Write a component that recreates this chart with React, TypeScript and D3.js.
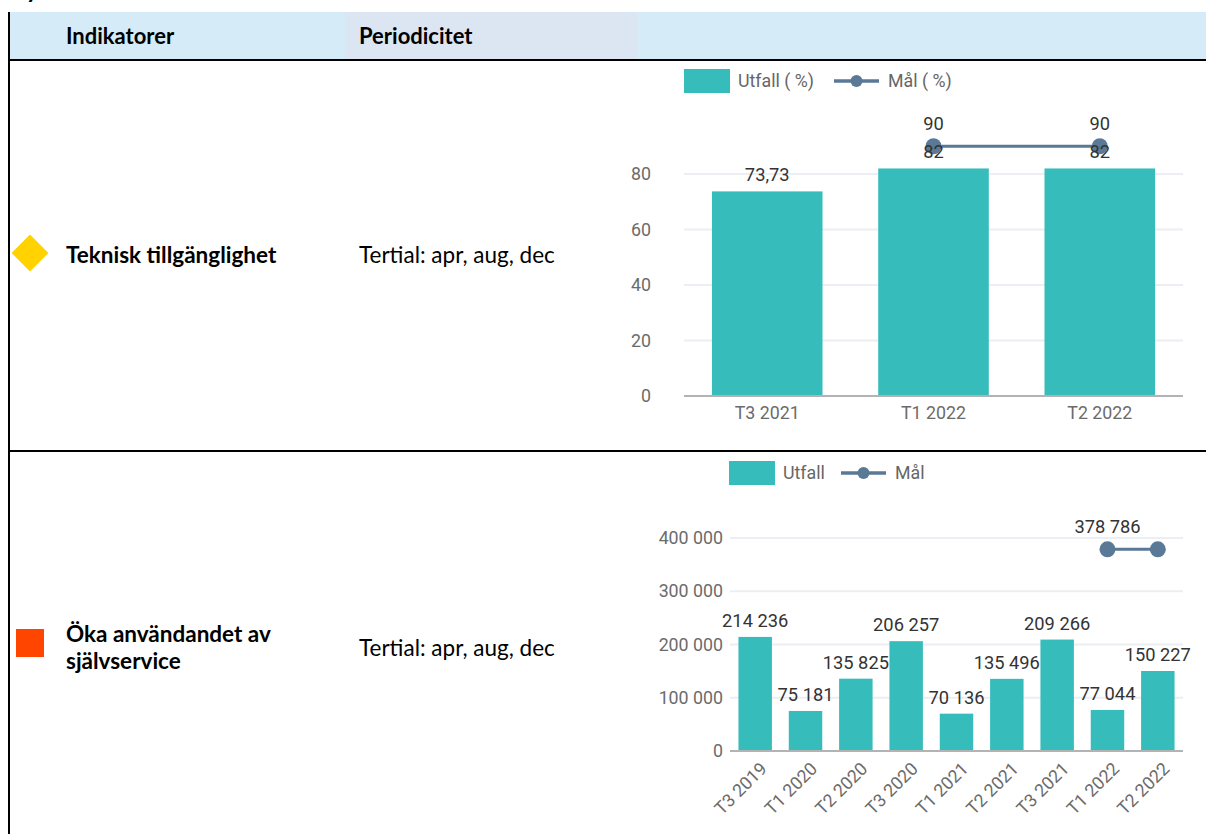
import React from "react";
import * as d3 from "d3";

const headers = ["Indikatorer", "Periodicitet"];
const indicatorLines = [["Teknisk tillgänglighet"], ["Öka användandet av", "självservice"]];
const periodicity = ["Tertial: apr, aug, dec", "Tertial: apr, aug, dec"];

const cats1 = ["T3 2021", "T1 2022", "T2 2022"];
const utfall1 = [73.73, 82, 82];
const mal1: (number | null)[] = [null, 90, 90];
const ticks1 = [0, 20, 40, 60, 80];
const legend1 = ["Utfall ( %)", "Mål ( %)"];

const cats2 = ["T3 2019", "T1 2020", "T2 2020", "T3 2020", "T1 2021", "T2 2021", "T3 2021", "T1 2022", "T2 2022"];
const utfall2 = [214236, 75181, 135825, 206257, 70136, 135496, 209266, 77044, 150227];
const mal2: (number | null)[] = [null, null, null, null, null, null, null, 378786, 378786];
const ticks2 = [0, 100000, 200000, 300000, 400000];
const legend2 = ["Utfall", "Mål"];

const TEAL = "#37bcbc";
const LINE = "#5a7996";
const FONT = "Roboto, sans-serif";
const CAL = "Lato, 'Open Sans', sans-serif";
const AX = 17.8;
const LB = 18.3;

const locale = d3.formatLocale({ decimal: ",", thousands: "\u00a0", grouping: [3], currency: ["", " kr"] });
const fmt = locale.format(",.2~f");

type ChartProps = {
  cats: string[];
  bars: number[];
  target: (number | null)[];
  ticks: number[];
  legend: string[];
  x0: number; x1: number;
  yBase: number; yTopVal: number; yTopPx: number;
  rotate: boolean;
  legendX: number; legendY: number; legendLineX: number;
  tickRight: number;
};

function Chart(p: ChartProps) {
  const x = d3.scaleBand<string>().domain(p.cats).range([p.x0, p.x1]).paddingInner(0.335).paddingOuter(0.168);
  const y = d3.scaleLinear().domain([0, p.yTopVal]).range([p.yBase, p.yTopPx]);
  const line = d3.line<[number, number]>().x(d => d[0]).y(d => d[1]);
  const pts: [number, number, number][] = [];
  p.target.forEach((v, i) => { if (v != null) pts.push([x(p.cats[i])! + x.bandwidth() / 2, y(v), v]); });
  const shown: boolean[] = [];
  let lastRight = -Infinity;
  pts.forEach(pt => {
    const w = fmt(pt[2]).length * 9.5;
    const left = pt[0] - w / 2;
    if (left > lastRight) { shown.push(true); lastRight = pt[0] + w / 2; } else shown.push(false);
  });
  const lg = p.legendX;
  const ls = p.legendLineX;
  const ly = p.legendY + 12;
  return (
    <g>
      <rect x={lg} y={p.legendY} width={46} height={24} fill={TEAL} />
      <text x={lg + 54} y={ly} dy="0.35em" fontFamily={FONT} fontSize={AX} fill="#666">{p.legend[0]}</text>
      <line x1={ls} x2={ls + 45} y1={ly} y2={ly} stroke={LINE} strokeWidth={3.5} />
      <circle cx={ls + 22.5} cy={ly} r={6} fill={LINE} />
      <text x={ls + 54} y={ly} dy="0.35em" fontFamily={FONT} fontSize={AX} fill="#666">{p.legend[1]}</text>
      {p.ticks.map(t => (
        <g key={t}>
          {t !== 0 && <line x1={p.x0} x2={p.x1} y1={y(t)} y2={y(t)} stroke="#ebeef3" strokeWidth={2} />}
          <text x={p.tickRight} y={y(t)} dy="0.35em" textAnchor="end" fontFamily={FONT} fontSize={AX} fill="#6b6b6b">{fmt(t)}</text>
        </g>
      ))}
      {p.bars.map((v, i) => (
        <rect key={i} x={x(p.cats[i])} y={y(v)} width={x.bandwidth()} height={p.yBase - y(v)} fill={TEAL} />
      ))}
      <line x1={p.x0} x2={p.x1} y1={p.yBase} y2={p.yBase} stroke="#b3b3b3" strokeWidth={2} />
      {p.cats.map(c => {
        const cx = x(c)! + x.bandwidth() / 2;
        return p.rotate ? (
          <text key={c} transform={`translate(${cx + 4},${p.yBase + 10}) rotate(-45)`} textAnchor="end" dy="0.7em" fontFamily={FONT} fontSize={AX} fill="#6b6b6b">{c}</text>
        ) : (
          <text key={c} x={cx} y={p.yBase + 17} dy="0.35em" textAnchor="middle" fontFamily={FONT} fontSize={AX} fill="#6b6b6b">{c}</text>
        );
      })}
      {pts.length > 1 && <path d={line(pts.map(d => [d[0], d[1]] as [number, number]))!} stroke={LINE} strokeWidth={3} fill="none" />}
      {pts.map((d, i) => <circle key={i} cx={d[0]} cy={d[1]} r={8} fill={LINE} />)}
      {p.bars.map((v, i) => (
        <text key={i} x={x(p.cats[i])! + x.bandwidth() / 2} y={y(v) - 10} textAnchor="middle" fontFamily={FONT} fontSize={LB} fill="#333">{fmt(v)}</text>
      ))}
      {pts.map((d, i) => shown[i] && (
        <text key={i} x={d[0]} y={d[1] - 16} textAnchor="middle" fontFamily={FONT} fontSize={LB} fill="#333">{fmt(d[2])}</text>
      ))}
    </g>
  );
}

export default function App() {
  const TF = 22.5;
  return (
    <svg width={1206} height={834} style={{ position: "absolute", left: 0, top: 0, background: "#fff" }}>
      <text x={26} y={-2} fontFamily={CAL} fontWeight="bold" fontSize={24} fill="#000">y</text>
      <rect x={10} y={12} width={335} height={47} fill="#d5ebf7" />
      <rect x={345} y={12} width={292} height={47} fill="#dce6f2" />
      <rect x={637} y={12} width={569} height={47} fill="#d5ebf7" />
      <text x={66} y={44} fontFamily={CAL} fontWeight="bold" fontSize={22} fill="#000">{headers[0]}</text>
      <text x={359} y={44} fontFamily={CAL} fontWeight="bold" fontSize={22} fill="#000">{headers[1]}</text>
      <line x1={9} x2={1206} y1={60} y2={60} stroke="#000" strokeWidth={2} />
      <line x1={9} x2={1206} y1={451} y2={451} stroke="#000" strokeWidth={2} />
      <line x1={9} x2={9} y1={12} y2={834} stroke="#000" strokeWidth={2} />
      <rect x={30 - 13} y={253 - 13} width={26} height={26} fill="#ffd200" transform="rotate(45 30 253)" />
      <text x={66} y={263} fontFamily={CAL} fontWeight="bold" fontSize={TF} fill="#000">{indicatorLines[0][0]}</text>
      <text x={359} y={263} fontFamily={CAL} fontSize={TF} fill="#000">{periodicity[0]}</text>
      <rect x={16} y={629} width={28} height={28} fill="#ff4500" />
      {indicatorLines[1].map((l, i) => (
        <text key={i} x={66} y={642 + i * 27} fontFamily={CAL} fontWeight="bold" fontSize={TF} fill="#000">{l}</text>
      ))}
      <text x={359} y={656} fontFamily={CAL} fontSize={TF} fill="#000">{periodicity[1]}</text>
      <Chart cats={cats1} bars={utfall1} target={mal1} ticks={ticks1} legend={legend1}
        x0={684} x1={1183} yBase={396} yTopVal={80} yTopPx={174} rotate={false}
        legendX={684} legendY={69} legendLineX={834} tickRight={651} />
      <Chart cats={cats2} bars={utfall2} target={mal2} ticks={ticks2} legend={legend2}
        x0={730} x1={1183} yBase={751} yTopVal={400000} yTopPx={538} rotate={true}
        legendX={729} legendY={461} legendLineX={841} tickRight={723} />
    </svg>
  );
}
